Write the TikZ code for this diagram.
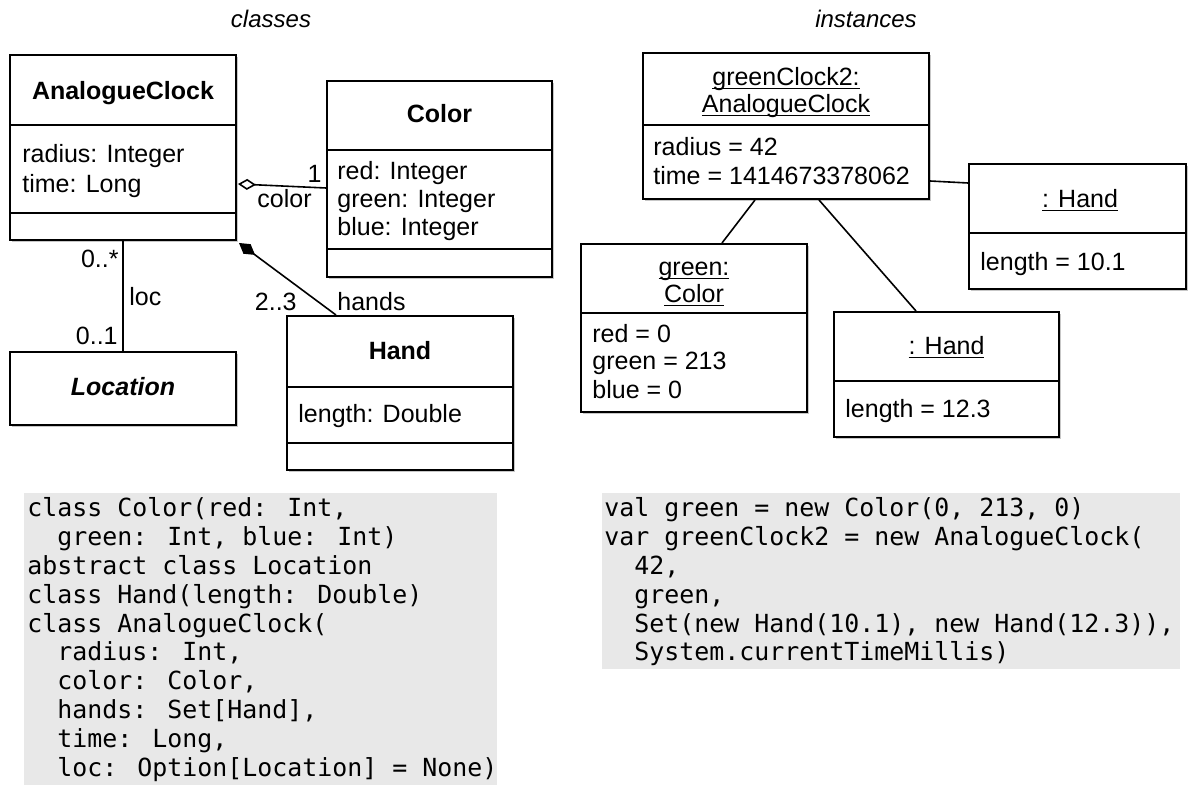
\documentclass[tikz,border=0pt]{standalone}
\usepackage{fontspec}
\setmainfont{Liberation Sans}
\newfontfamily\codefont{DejaVu Sans Mono}
\usetikzlibrary{arrows.meta,fit,calc,shadows}

% underline at a fixed depth, crossing descenders
\newcommand\undl[1]{\setbox0\hbox{#1}\rlap{\rule[-1.7pt]{\wd0}{0.55pt}}\box0}

\begin{document}
\begin{tikzpicture}[x=0.5pt,y=-0.5pt,
  umlbox/.style={draw, line width=1pt, fill=white, inner sep=0pt,
    drop shadow={shadow xshift=0.9pt, shadow yshift=-1.2pt, fill=black, opacity=0.22}},
  divider/.style={line width=1pt},
  txt/.style={inner sep=0pt, font=\fontsize{12.5}{15}\selectfont},
  ttl/.style={txt, font=\fontsize{12.5}{15}\selectfont\bfseries},
  hdr/.style={inner sep=0pt, font=\fontsize{12}{14}\selectfont\itshape},
  conn/.style={line width=0.8pt},
  codebg/.style={fill=black!9, draw=none, inner sep=0pt},
  code/.style={inner sep=0pt, align=left, anchor=north west,
    font=\fontsize{12.46}{14.45}\selectfont\codefont},
]
\useasboundingbox (0,0) rectangle (1188,785);

% ---------- headings ----------
\node[hdr, anchor=base] (hcls) at (271,28) {classes};
\node[hdr, anchor=base] (hins) at (866,28) {instances};

% ---------- class diagram ----------
\node[umlbox, fit={(10,55)(236,240)}] (ac) {};
\draw[divider] (ac.west |- 0,125) -- (ac.east |- 0,125);
\draw[divider] (ac.west |- 0,213) -- (ac.east |- 0,213);
\node[ttl, anchor=base] (acT) at (123,100) {AnalogueClock};
\node[txt, anchor=base west] (acA1) at (22,163) {radius: Integer};
\node[txt, anchor=base west] (acA2) at (22,193) {time: Long};

\node[umlbox, fit={(327,81)(552,277)}] (col) {};
\draw[divider] (col.west |- 0,150) -- (col.east |- 0,150);
\draw[divider] (col.west |- 0,249) -- (col.east |- 0,249);
\node[ttl, anchor=base] (colT) at (439.5,123) {Color};
\node[txt, anchor=base west] (colA1) at (337,180) {red: Integer};
\node[txt, anchor=base west] (colA2) at (337,208) {green: Integer};
\node[txt, anchor=base west] (colA3) at (337,236) {blue: Integer};

\node[umlbox, fit={(10,352)(236,425)}] (loc) {};
\node[ttl, anchor=base, font=\fontsize{12.5}{15}\selectfont\bfseries\itshape] (locT) at (123,396) {Location};

\node[umlbox, fit={(287,316)(513,470)}] (hand) {};
\draw[divider] (hand.west |- 0,387) -- (hand.east |- 0,387);
\draw[divider] (hand.west |- 0,443) -- (hand.east |- 0,443);
\node[ttl, anchor=base] (handT) at (400,360) {Hand};
\node[txt, anchor=base west] (handA1) at (298,423) {length: Double};

% associations
\draw[conn, {Diamond[open, length=9pt, width=5.5pt, line width=0.8pt]}-]
  ($(ac.south east)+(1,-57)$) -- ($(col.north west)+(0,108)$);
\node[txt, anchor=base east] (mColor) at (322,183) {1};
\node[txt, anchor=base west] (rColor) at (257,208) {color};

\draw[conn] (ac.south) -- (loc.north);
\node[txt, anchor=base east] (mLocA) at (119,268) {0..*};
\node[txt, anchor=base east] (mLocB) at (118,345) {0..1};
\node[txt, anchor=base west] (rLoc) at (129,306) {loc};

\draw[conn, {Diamond[length=10pt, width=6pt]}-]
  ($(ac.south east)+(2,2)$) -- ($(hand.north west)+(50,0)$);
\node[txt, anchor=base east] (mHand) at (297,311) {2..3};
\node[txt, anchor=base west] (rHand) at (337,311) {hands};

% ---------- object diagram ----------
\node[umlbox, fit={(643,53)(929,199)}] (gc) {};
\draw[divider] (gc.west |- 0,125) -- (gc.east |- 0,125);
\node[txt, anchor=base] (gcT1) at (786,86) {\undl{greenClock2:}};
\node[txt, anchor=base] (gcT2) at (786,113) {\undl{AnalogueClock}};
\node[txt, anchor=base west] (gcA1) at (653,156) {radius = 42};
\node[txt, anchor=base west] (gcA2) at (653,185) {time = 1414673378062};

\node[umlbox, fit={(581,244)(807,412)}] (gcol) {};
\draw[divider] (gcol.west |- 0,313) -- (gcol.east |- 0,313);
\node[txt, anchor=base] (gcolT1) at (694,276) {\undl{green:}};
\node[txt, anchor=base] (gcolT2) at (694,303) {\undl{Color}};
\node[txt, anchor=base west] (gcolA1) at (592,343) {red = 0};
\node[txt, anchor=base west] (gcolA2) at (592,370) {green = 213};
\node[txt, anchor=base west] (gcolA3) at (592,399) {blue = 0};

\node[umlbox, fit={(969,164)(1186,289)}] (rh) {};
\draw[divider] (rh.west |- 0,233) -- (rh.east |- 0,233);
\node[txt, anchor=base] (rhT) at (1080,208) {\undl{: Hand}};
\node[txt, anchor=base west] (rhA1) at (980,271) {length = 10.1};

\node[umlbox, fit={(834,312)(1059,437)}] (mh) {};
\draw[divider] (mh.west |- 0,381) -- (mh.east |- 0,381);
\node[txt, anchor=base] (mhT) at (946.5,355) {\undl{: Hand}};
\node[txt, anchor=base west] (mhA1) at (845,418) {length = 12.3};

% links
\draw[conn] ($(gc.south)+(-31,0)$) -- ($(gcol.north)+(28,0)$);
\draw[conn] ($(gc.south)+(33,0)$) -- ($(mh.north)+(-30.5,0)$);
\draw[conn] ($(gc.south east)+(0,-19)$) -- ($(rh.north west)+(0,20)$);

% ---------- source code ----------
\node[codebg, fit={(24,493)(497,785)}] (srcL) {};
\node[code] (codeL) at (27,497) {%
class Color(red: Int,\\
\hphantom{xx}green: Int, blue: Int)\\
abstract class Location\\
class Hand(length: Double)\\
class AnalogueClock(\\
\hphantom{xx}radius: Int,\\
\hphantom{xx}color: Color,\\
\hphantom{xx}hands: Set[Hand],\\
\hphantom{xx}time: Long,\\
\hphantom{xx}loc: Option[Location] = None)};

\node[codebg, fit={(602,493)(1180,669)}] (srcR) {};
\node[code] (codeR) at (604,497) {%
val green = new Color(0, 213, 0)\\
var greenClock2 = new AnalogueClock(\\
\hphantom{xx}42,\\
\hphantom{xx}green,\\
\hphantom{xx}Set(new Hand(10.1), new Hand(12.3)),\\
\hphantom{xx}System.currentTimeMillis)};
\end{tikzpicture}
\end{document}
